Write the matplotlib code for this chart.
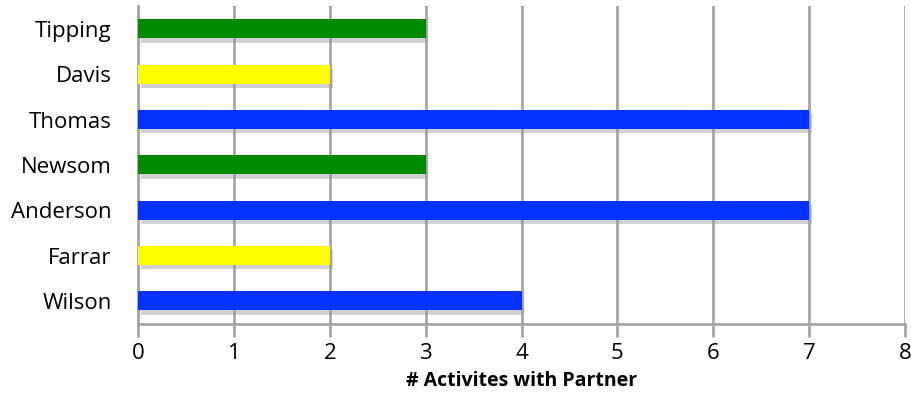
import matplotlib.pyplot as plt
import matplotlib.patheffects as pe

names = ['Wilson', 'Farrar', 'Anderson', 'Newsom', 'Thomas', 'Davis', 'Tipping']
activities = [4, 2, 7, 3, 7, 2, 3]
colors = ['#0433FF', '#FFFF00', '#0433FF', '#008A00', '#0433FF', '#FFFF00', '#008A00']
xticks = [0, 1, 2, 3, 4, 5, 6, 7, 8]

plt.rcParams['font.family'] = ['Open Sans', 'DejaVu Sans']

fig = plt.figure(figsize=(9.11, 4.16), dpi=100)
ax = fig.add_axes([0.1515, 0.222, 0.8419, 0.763])

grid_col = '#A6A6A6'
shadow = [pe.SimplePatchShadow(offset=(2, -3), shadow_rgbFace='#999999', alpha=0.45), pe.Normal()]
bars = ax.barh(range(len(names)), activities, height=0.42, color=colors, zorder=3)
for b in bars:
    b.set_path_effects(shadow)

ax.set_xlim(0, 8)
ax.set_ylim(-0.5, len(names) - 0.5)
ax.set_xticks(xticks)
ax.set_yticks(range(len(names)))
ax.set_yticklabels(names)
ax.xaxis.grid(True, color=grid_col, linewidth=2, zorder=0)
ax.set_axisbelow(True)

for s in ['top', 'right']:
    ax.spines[s].set_visible(False)
for s in ['left', 'bottom']:
    ax.spines[s].set_color(grid_col)
    ax.spines[s].set_linewidth(2)

ax.tick_params(axis='x', length=9, width=2, color=grid_col, labelsize=16, pad=5)
ax.tick_params(axis='y', length=0, labelsize=16, pad=19)
ax.set_xlabel('# Activites with Partner', fontsize=14, fontweight='bold', labelpad=5)

fig.savefig('out.png', dpi=100)
